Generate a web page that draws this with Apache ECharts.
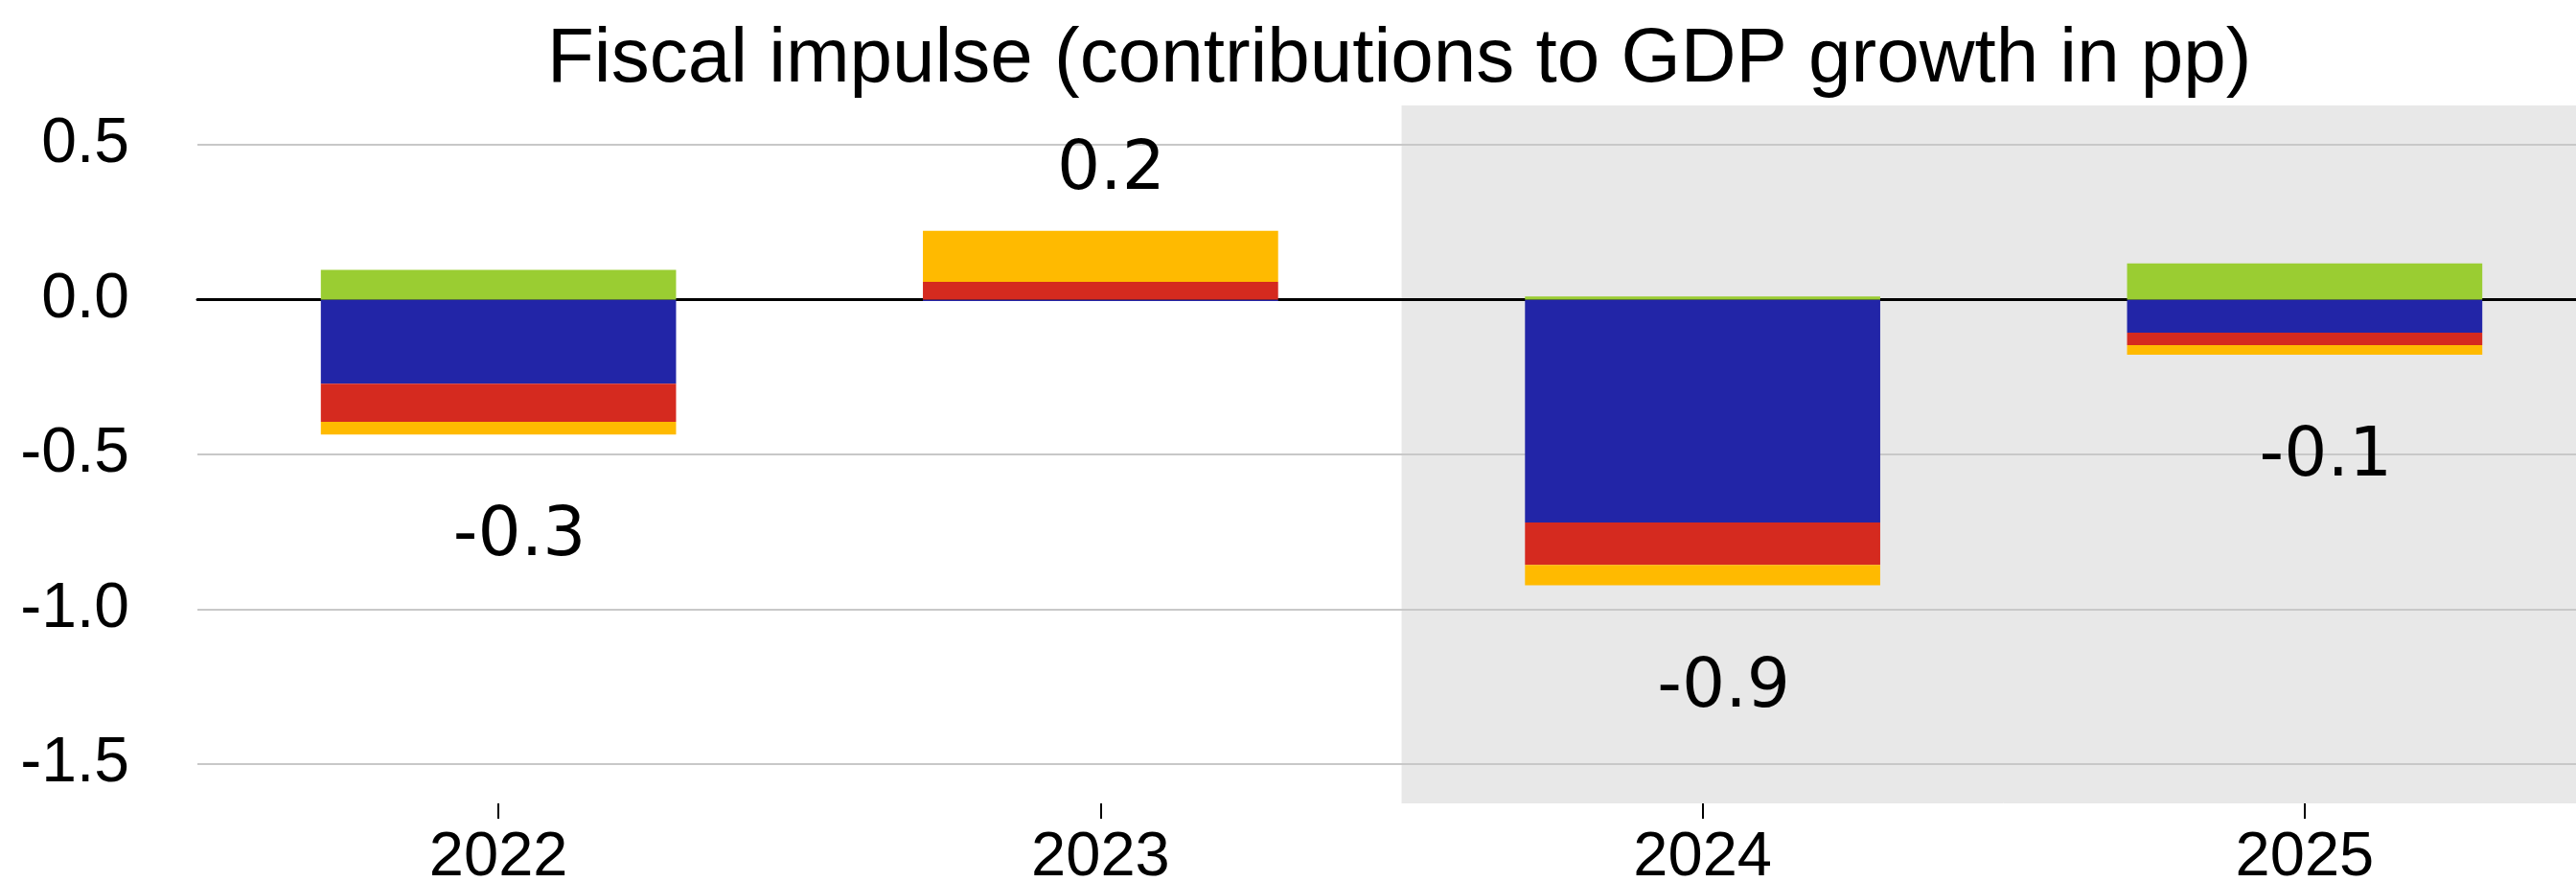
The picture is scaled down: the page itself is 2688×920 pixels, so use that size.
<!DOCTYPE html>
<html>
<head>
<meta charset="utf-8">
<script src="https://cdn.jsdelivr.net/npm/echarts@6/dist/echarts.min.js"></script>
<style>
  html, body { margin: 0; padding: 0; background: #ffffff; }
  #chart { width: 2688px; height: 920px; }
</style>
</head>
<body>
<div id="chart"></div>
<script>
// ---- data ----
const categories = ['2022', '2023', '2024', '2025'];
const blueValues   = [-0.272, -0.005, -0.720, -0.107];
const redValues    = [-0.123,  0.057, -0.137, -0.040];
const yellowValues = [-0.041,  0.165, -0.066, -0.031];
const greenValues  = [ 0.096,  0.000,  0.010,  0.117];
const totalLabels  = ['-0.3', '0.2', '-0.9', '-0.1'];
const yTicks = [-1.5, -1.0, -0.5, 0.0, 0.5];
const shadedFrom = '2024';
const titleText = 'Fiscal impulse (contributions to GDP growth in pp)';

// ---- chart ----
const chart = echarts.init(document.getElementById('chart'), null, { renderer: 'canvas' });

const shadeIdx = categories.indexOf(shadedFrom);
const splitColors = categories.map((c, i) => (i >= shadeIdx ? '#e8e8e8' : 'rgba(0,0,0,0)'));

const sumPos = categories.map((c, i) => [blueValues[i], redValues[i], yellowValues[i], greenValues[i]].filter(v => v > 0).reduce((a, b) => a + b, 0));
const sumNeg = categories.map((c, i) => [blueValues[i], redValues[i], yellowValues[i], greenValues[i]].filter(v => v < 0).reduce((a, b) => a + b, 0));

const yellowData = yellowValues.map((v, i) => {
  const positive = sumPos[i] + sumNeg[i] > 0;
  return {
    value: v,
    label: {
      show: true,
      formatter: totalLabels[i],
      position: positive ? 'top' : 'bottom',
      distance: positive ? 27 : 72,
      offset: positive ? [11, 0] : [22, 0]
    }
  };
});

const axisFont = { fontFamily: 'Liberation Sans', color: '#000000' };
const barCommon = {
  type: 'bar', stack: 'total', xAxisIndex: 0, yAxisIndex: 0,
  barWidth: '59%', z: 3, emphasis: { disabled: true }
};

chart.setOption({
  animation: false,
  backgroundColor: '#ffffff',
  title: {
    text: titleText,
    left: 571, top: 23, padding: 0,
    textStyle: { fontFamily: 'Liberation Sans', fontSize: 80, fontWeight: 'normal', color: '#000000' }
  },
  grid: [
    { left: 206, width: 2513, top: 110, height: 728, containLabel: false, outerBoundsMode: 'none' },
    { left: 206, width: 2513, top: 151, height: 646, containLabel: false, outerBoundsMode: 'none' }
  ],
  xAxis: [
    {
      gridIndex: 0, type: 'category', data: categories, position: 'bottom',
      axisLine: { show: false, onZero: false },
      axisTick: { show: true, alignWithLabel: true, length: 16, lineStyle: { color: '#000000', width: 2 } },
      axisLabel: Object.assign({ fontSize: 65, margin: 25 }, axisFont),
      splitLine: { show: false },
      splitArea: { show: true, areaStyle: { color: splitColors } },
      z: 0
    },
    {
      gridIndex: 1, type: 'category', data: categories,
      axisLine: { show: true, onZero: true, lineStyle: { color: '#000000', width: 3 } },
      axisTick: { show: false }, axisLabel: { show: false },
      splitLine: { show: false }, z: 2
    }
  ],
  yAxis: [
    { gridIndex: 0, type: 'value', min: -1.627, max: 0.627, show: false, splitLine: { show: false } },
    {
      gridIndex: 1, type: 'value', min: yTicks[0], max: yTicks[yTicks.length - 1], interval: 0.5,
      axisLine: { show: false }, axisTick: { show: false },
      axisLabel: Object.assign({ fontSize: 66, margin: 71, formatter: v => v.toFixed(1) }, axisFont),
      splitLine: { show: true, lineStyle: { color: '#c8c8c8', width: 2 } },
      z: 1
    }
  ],
  series: [
    Object.assign({ name: 'Blue component',   data: blueValues,   itemStyle: { color: '#2225A7' } }, barCommon),
    Object.assign({ name: 'Red component',    data: redValues,    itemStyle: { color: '#D52A1F' } }, barCommon),
    Object.assign({ name: 'Yellow component', data: yellowData,   itemStyle: { color: '#FFBA00' },
      label: { fontFamily: 'DejaVu Sans', fontSize: 71, color: '#000000' } }, barCommon),
    Object.assign({ name: 'Green component',  data: greenValues,  itemStyle: { color: '#9ACD32' } }, barCommon)
  ]
});
</script>
</body>
</html>
